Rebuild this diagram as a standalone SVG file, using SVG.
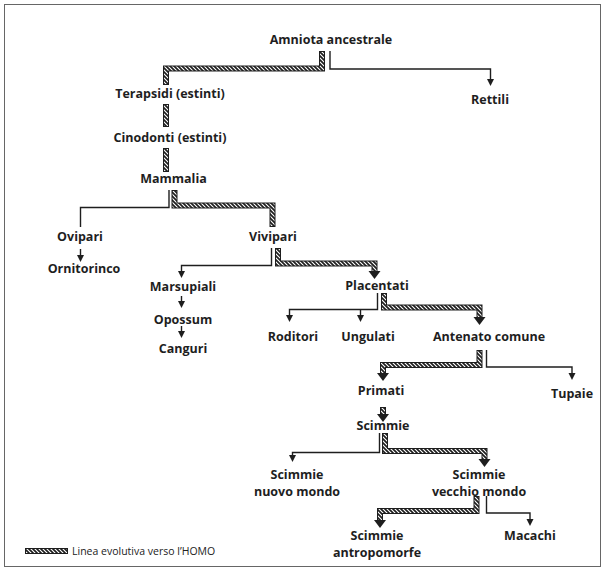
<svg xmlns="http://www.w3.org/2000/svg" width="605" height="571" viewBox="0 0 605 571">
  <style>
    .lbl { font-family: "Open Sans", "Noto Sans", "Liberation Sans", sans-serif; font-weight: 700; font-size: 12.5px; fill: #1e1e1e; text-anchor: middle; }
    .leg { font-family: "Open Sans", "Noto Sans", "Liberation Sans", sans-serif; font-weight: 400; font-size: 10.5px; fill: #222; }
    .thin { fill: none; stroke: #1e1e1e; stroke-width: 1.4; }
    .bandOut { fill: none; stroke: #1e1e1e; stroke-width: 6; stroke-linecap: square; stroke-linejoin: miter; }
    .bandIn { fill: none; stroke: url(#hatch); stroke-width: 4; stroke-linecap: square; stroke-linejoin: miter; }
    .tip { fill: #1e1e1e; }
  </style>
  <defs>
    <!-- diagonal hatching used inside the evolutionary-line bands -->
    <pattern id="hatch" patternUnits="userSpaceOnUse" width="4" height="4">
      <rect width="4" height="4" fill="#fff"/>
      <path d="M-1,-1 L5,5 M-1,3 L1,5 M3,-1 L5,1" stroke="#1e1e1e" stroke-width="1.7"/>
    </pattern>
  </defs>

  <!-- frame -->
  <rect x="4.5" y="4.5" width="596" height="562" fill="#fff" stroke="#666" stroke-width="1"/>

  <g id="connectors">
    <!-- hatched lines (evolutionary path) -->
    <g id="homo-line">
      <path class="bandOut" d="M322,54 V68.5 H166 V82"/>
      <path class="bandIn"  d="M322,54 V68.5 H166 V82"/>
      <path class="bandOut" d="M166,107 V124"/>
      <path class="bandIn"  d="M166,107 V124"/>
      <path class="bandOut" d="M166,151 V169"/>
      <path class="bandIn"  d="M166,151 V169"/>
      <path class="bandOut" d="M174.5,193 V205.5 H272.5 V224"/>
      <path class="bandIn"  d="M174.5,193 V205.5 H272.5 V224"/>
      <path class="bandOut" d="M278,251 V263.5 H374.5 V269"/>
      <path class="bandIn"  d="M278,251 V263.5 H374.5 V269"/>
      <polygon class="tip" points="368.5,271 380.5,271 374.5,279"/>
      <path class="bandOut" d="M384,296 V307.5 H479.5 V315"/>
      <path class="bandIn"  d="M384,296 V307.5 H479.5 V315"/>
      <polygon class="tip" points="473.5,317 485.5,317 479.5,325"/>
      <path class="bandOut" d="M479.5,353 V365 H383 V371"/>
      <path class="bandIn"  d="M479.5,353 V365 H383 V371"/>
      <polygon class="tip" points="377,373 389,373 383,381"/>
      <path class="bandOut" d="M383,410 V412"/>
      <path class="bandIn"  d="M383,410 V412"/>
      <polygon class="tip" points="377,414 389,414 383,422"/>
      <path class="bandOut" d="M385,436 V451 H484.5 V457"/>
      <path class="bandIn"  d="M385,436 V451 H484.5 V457"/>
      <polygon class="tip" points="478.5,459 490.5,459 484.5,467"/>
      <path class="bandOut" d="M476.5,499 V511 H380 V518"/>
      <path class="bandIn"  d="M476.5,499 V511 H380 V518"/>
      <polygon class="tip" points="374,520 386,520 380,528"/>
    </g>
    <!-- plain branches -->
    <g id="branches">
      <path class="thin" d="M330,51 V69 H490.5 V80"/>
      <polygon class="tip" points="487,79 494,79 490.5,86"/>
      <path class="thin" d="M169,190 V207.5 H80.5 V227"/>
      <path class="thin" d="M80.5,249 V256"/>
      <polygon class="tip" points="77,255 84,255 80.5,262"/>
      <path class="thin" d="M271.5,248 V265.5 H181.5 V272"/>
      <polygon class="tip" points="178,271 185,271 181.5,278"/>
      <path class="thin" d="M181.5,296 V302"/>
      <polygon class="tip" points="178,301 185,301 181.5,308"/>
      <path class="thin" d="M181.5,326 V332"/>
      <polygon class="tip" points="178,331 185,331 181.5,338"/>
      <path class="thin" d="M377.5,293 V309.5 H289.5 V316"/>
      <polygon class="tip" points="286,315 293,315 289.5,322"/>
      <path class="thin" d="M360.5,309.5 V316"/>
      <polygon class="tip" points="357,315 364,315 360.5,322"/>
      <path class="thin" d="M486.5,350 V367 H572 V374"/>
      <polygon class="tip" points="568.5,373 575.5,373 572,380"/>
      <path class="thin" d="M379.5,433 V452.5 H292.5 V456"/>
      <polygon class="tip" points="289,455 296,455 292.5,462"/>
      <path class="thin" d="M486.5,496 V513 H530 V520"/>
      <polygon class="tip" points="526.5,519 533.5,519 530,526"/>
    </g>
  </g>

  <g id="amniota"><text class="lbl" x="331" y="44">Amniota ancestrale</text></g>
  <g id="rettili"><text class="lbl" x="490" y="104">Rettili</text></g>
  <g id="terapsidi"><text class="lbl" x="170" y="98">Terapsidi (estinti)</text></g>
  <g id="cinodonti"><text class="lbl" x="170" y="142">Cinodonti (estinti)</text></g>
  <g id="mammalia"><text class="lbl" x="173.5" y="183">Mammalia</text></g>
  <g id="ovipari"><text class="lbl" x="80" y="241">Ovipari</text></g>
  <g id="vivipari"><text class="lbl" x="273" y="241">Vivipari</text></g>
  <g id="ornitorinco"><text class="lbl" x="84" y="273">Ornitorinco</text></g>
  <g id="marsupiali"><text class="lbl" x="183" y="291">Marsupiali</text></g>
  <g id="placentati"><text class="lbl" x="377" y="290">Placentati</text></g>
  <g id="opossum"><text class="lbl" x="183" y="324">Opossum</text></g>
  <g id="canguri"><text class="lbl" x="183" y="353">Canguri</text></g>
  <g id="roditori"><text class="lbl" x="293" y="341">Roditori</text></g>
  <g id="ungulati"><text class="lbl" x="368" y="341">Ungulati</text></g>
  <g id="antenato"><text class="lbl" x="489" y="341">Antenato comune</text></g>
  <g id="primati"><text class="lbl" x="381" y="395">Primati</text></g>
  <g id="tupaie"><text class="lbl" x="572" y="398">Tupaie</text></g>
  <g id="scimmie"><text class="lbl" x="383" y="430">Scimmie</text></g>
  <g id="nuovo-mondo"><text class="lbl" x="297" y="479">Scimmie<tspan x="297" y="496">nuovo mondo</tspan></text></g>
  <g id="vecchio-mondo"><text class="lbl" x="479" y="479">Scimmie<tspan x="479" y="496">vecchio mondo</tspan></text></g>
  <g id="antropomorfe"><text class="lbl" x="377" y="540">Scimmie<tspan x="377" y="557">antropomorfe</tspan></text></g>
  <g id="macachi"><text class="lbl" x="530" y="540">Macachi</text></g>

  <g id="legend">
    <path class="bandOut" d="M28,551 H65"/>
    <path class="bandIn" d="M28,551 H65"/>
    <text class="leg" x="72" y="555">Linea evolutiva verso l’HOMO</text>
  </g>
</svg>
